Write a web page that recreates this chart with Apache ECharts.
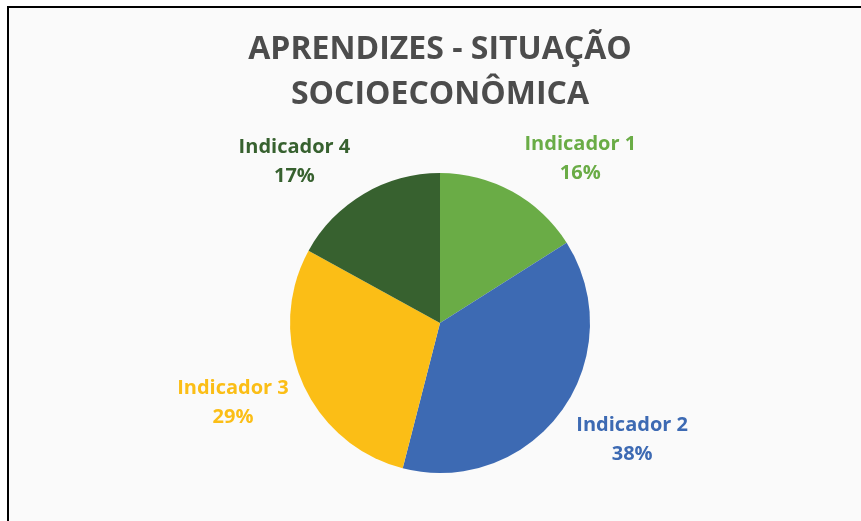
<!DOCTYPE html>
<html>
<head>
<meta charset="utf-8">
<script src="https://cdn.jsdelivr.net/npm/echarts@6/dist/echarts.min.js"></script>
<style>
  html, body { margin: 0; padding: 0; background: #ffffff; overflow: hidden; }
  #frame {
    position: absolute; left: 7px; top: 6px;
    border-left: 2px solid #000; border-top: 2px solid #000;
    background: #fafafa;
  }
  #chart { width: 862px; height: 513px; }
</style>
</head>
<body>
<div id="frame"><div id="chart"></div></div>
<script>
// dados do gráfico
var titulo = 'APRENDIZES - SITUAÇÃO\nSOCIOECONÔMICA'
var indicadores = ['Indicador 1', 'Indicador 2', 'Indicador 3', 'Indicador 4']
var percentuais = [16, 38, 29, 17]
var cores = ['#6aac46', '#3d6ab3', '#fbbe16', '#37612f']
// deslocamento horizontal dos rótulos (estilo)
var recuoRotulo = [-8, -19, -25, -8]

var fonteRotulo = {
  fontFamily: 'Open Sans',
  fontWeight: 'bold',
  fontSize: 20,
  lineHeight: 29,
  align: 'center'
}

var chart = echarts.init(document.getElementById('chart'))

chart.setOption({
  animation: false,
  title: {
    text: titulo,
    left: 'center',
    top: 19,
    padding: 0,
    textStyle: {
      fontFamily: 'Open Sans',
      fontWeight: 'bold',
      fontSize: 32,
      lineHeight: 45,
      color: '#4c4c4c'
    }
  },
  series: [
    {
      type: 'pie',
      center: ['50%', 315],
      radius: 150,
      startAngle: 90,
      clockwise: true,
      percentPrecision: 0,
      avoidLabelOverlap: false,
      label: {
        position: 'outside',
        formatter: '{c|{b}}\n{c|{d}%}',
        distanceToLabelLine: 0,
        padding: [8, 0, 0, 0]
      },
      labelLine: { show: false, length: 42, length2: 0 },
      data: indicadores.map(function (nome, i) {
        return {
          name: nome,
          value: percentuais[i],
          itemStyle: { color: cores[i] },
          label: {
            color: cores[i],
            rich: { c: Object.assign({ color: cores[i] }, fonteRotulo) }
          },
          labelLine: { length2: recuoRotulo[i] }
        }
      })
    }
  ]
})
</script>
</body>
</html>
